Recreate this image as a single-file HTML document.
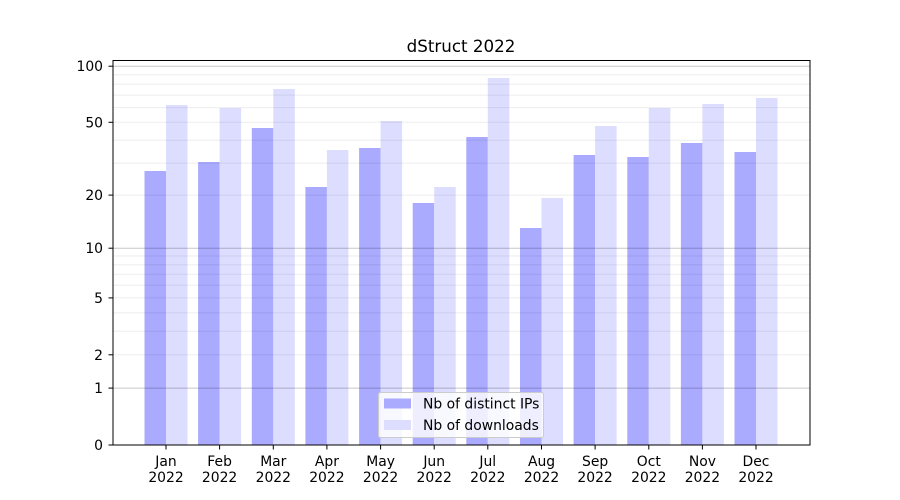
<!DOCTYPE html>
<html><head><meta charset="utf-8"><style>body{margin:0;background:#fff}svg{display:block;font-family:"DejaVu Sans","Liberation Sans",sans-serif}</style></head><body>
<svg width="900" height="500" xmlns="http://www.w3.org/2000/svg">
<text x="461" y="52" font-size="16.7" text-anchor="middle">dStruct 2022</text>
<g>
<rect x="144.5" y="171" width="21.5" height="274" fill="#aaaaff"/><rect x="166" y="105" width="21.5" height="340" fill="#ddddff"/>
<rect x="198.1" y="162" width="21.5" height="283" fill="#aaaaff"/><rect x="219.6" y="108" width="21.5" height="337" fill="#ddddff"/>
<rect x="251.8" y="128" width="21.5" height="317" fill="#aaaaff"/><rect x="273.3" y="89" width="21.5" height="356" fill="#ddddff"/>
<rect x="305.4" y="187" width="21.5" height="258" fill="#aaaaff"/><rect x="326.9" y="150" width="21.5" height="295" fill="#ddddff"/>
<rect x="359.1" y="148" width="21.5" height="297" fill="#aaaaff"/><rect x="380.6" y="121" width="21.5" height="324" fill="#ddddff"/>
<rect x="412.7" y="203" width="21.5" height="242" fill="#aaaaff"/><rect x="434.2" y="187" width="21.5" height="258" fill="#ddddff"/>
<rect x="466.3" y="137" width="21.5" height="308" fill="#aaaaff"/><rect x="487.8" y="78" width="21.5" height="367" fill="#ddddff"/>
<rect x="520" y="228" width="21.5" height="217" fill="#aaaaff"/><rect x="541.5" y="198" width="21.5" height="247" fill="#ddddff"/>
<rect x="573.6" y="155" width="21.5" height="290" fill="#aaaaff"/><rect x="595.1" y="126" width="21.5" height="319" fill="#ddddff"/>
<rect x="627.3" y="157" width="21.5" height="288" fill="#aaaaff"/><rect x="648.8" y="108" width="21.5" height="337" fill="#ddddff"/>
<rect x="680.9" y="143" width="21.5" height="302" fill="#aaaaff"/><rect x="702.4" y="104" width="21.5" height="341" fill="#ddddff"/>
<rect x="734.5" y="152" width="21.5" height="293" fill="#aaaaff"/><rect x="756" y="98" width="21.5" height="347" fill="#ddddff"/>
</g>
<g stroke="#000" stroke-opacity="0.07" stroke-width="1">
<line x1="113" x2="810" y1="354.8" y2="354.8"/><line x1="113" x2="810" y1="331.2" y2="331.2"/><line x1="113" x2="810" y1="312.9" y2="312.9"/><line x1="113" x2="810" y1="297.9" y2="297.9"/><line x1="113" x2="810" y1="285.3" y2="285.3"/><line x1="113" x2="810" y1="274.3" y2="274.3"/><line x1="113" x2="810" y1="264.7" y2="264.7"/><line x1="113" x2="810" y1="256" y2="256"/>
<line x1="113" x2="810" y1="195.1" y2="195.1"/><line x1="113" x2="810" y1="163.1" y2="163.1"/><line x1="113" x2="810" y1="140.2" y2="140.2"/><line x1="113" x2="810" y1="122.3" y2="122.3"/><line x1="113" x2="810" y1="107.6" y2="107.6"/><line x1="113" x2="810" y1="95.1" y2="95.1"/><line x1="113" x2="810" y1="84.3" y2="84.3"/><line x1="113" x2="810" y1="74.7" y2="74.7"/>
</g>
<g stroke="#000" stroke-opacity="0.22" stroke-width="1">
<line x1="113" x2="810" y1="388.1" y2="388.1"/><line x1="113" x2="810" y1="248.2" y2="248.2"/><line x1="113" x2="810" y1="66.2" y2="66.2"/>
</g>
<rect x="113" y="60.5" width="697" height="384.5" fill="none" stroke="#000" stroke-width="1"/>
<g stroke="#000" stroke-width="1">
<line x1="108.5" x2="113" y1="445" y2="445"/><line x1="108.5" x2="113" y1="388.1" y2="388.1"/><line x1="108.5" x2="113" y1="354.8" y2="354.8"/><line x1="108.5" x2="113" y1="297.9" y2="297.9"/><line x1="108.5" x2="113" y1="248.2" y2="248.2"/><line x1="108.5" x2="113" y1="195.1" y2="195.1"/><line x1="108.5" x2="113" y1="122.3" y2="122.3"/><line x1="108.5" x2="113" y1="66.2" y2="66.2"/>
</g>
<g font-size="13.9" text-anchor="end">
<text x="103" y="450">0</text><text x="103" y="393">1</text><text x="103" y="359.8">2</text><text x="103" y="302.9">5</text><text x="103" y="253.2">10</text><text x="103" y="200.1">20</text><text x="103" y="127.3">50</text><text x="103" y="71.2">100</text>
</g>
<g stroke="#000" stroke-width="1">
<line x1="166" x2="166" y1="445" y2="449.5"/><line x1="219.6" x2="219.6" y1="445" y2="449.5"/><line x1="273.3" x2="273.3" y1="445" y2="449.5"/><line x1="326.9" x2="326.9" y1="445" y2="449.5"/><line x1="380.6" x2="380.6" y1="445" y2="449.5"/><line x1="434.2" x2="434.2" y1="445" y2="449.5"/><line x1="487.8" x2="487.8" y1="445" y2="449.5"/><line x1="541.5" x2="541.5" y1="445" y2="449.5"/><line x1="595.1" x2="595.1" y1="445" y2="449.5"/><line x1="648.8" x2="648.8" y1="445" y2="449.5"/><line x1="702.4" x2="702.4" y1="445" y2="449.5"/><line x1="756" x2="756" y1="445" y2="449.5"/>
</g>
<g font-size="13.9" text-anchor="middle">
<text x="166" y="466">Jan</text><text x="166" y="482">2022</text>
<text x="219.6" y="466">Feb</text><text x="219.6" y="482">2022</text>
<text x="273.3" y="466">Mar</text><text x="273.3" y="482">2022</text>
<text x="326.9" y="466">Apr</text><text x="326.9" y="482">2022</text>
<text x="380.6" y="466">May</text><text x="380.6" y="482">2022</text>
<text x="434.2" y="466">Jun</text><text x="434.2" y="482">2022</text>
<text x="487.8" y="466">Jul</text><text x="487.8" y="482">2022</text>
<text x="541.5" y="466">Aug</text><text x="541.5" y="482">2022</text>
<text x="595.1" y="466">Sep</text><text x="595.1" y="482">2022</text>
<text x="648.8" y="466">Oct</text><text x="648.8" y="482">2022</text>
<text x="702.4" y="466">Nov</text><text x="702.4" y="482">2022</text>
<text x="756" y="466">Dec</text><text x="756" y="482">2022</text>
</g>
<rect x="378.5" y="392.5" width="165" height="45" rx="2" fill="#fff" fill-opacity="0.8" stroke="#ccc"/>
<rect x="384" y="398.5" width="27" height="10" fill="#aaaaff"/>
<rect x="384" y="420" width="27" height="10" fill="#ddddff"/>
<g font-size="13.9"><text x="423" y="408.5">Nb of distinct IPs</text><text x="423" y="430">Nb of downloads</text></g>
</svg>
</body></html>
